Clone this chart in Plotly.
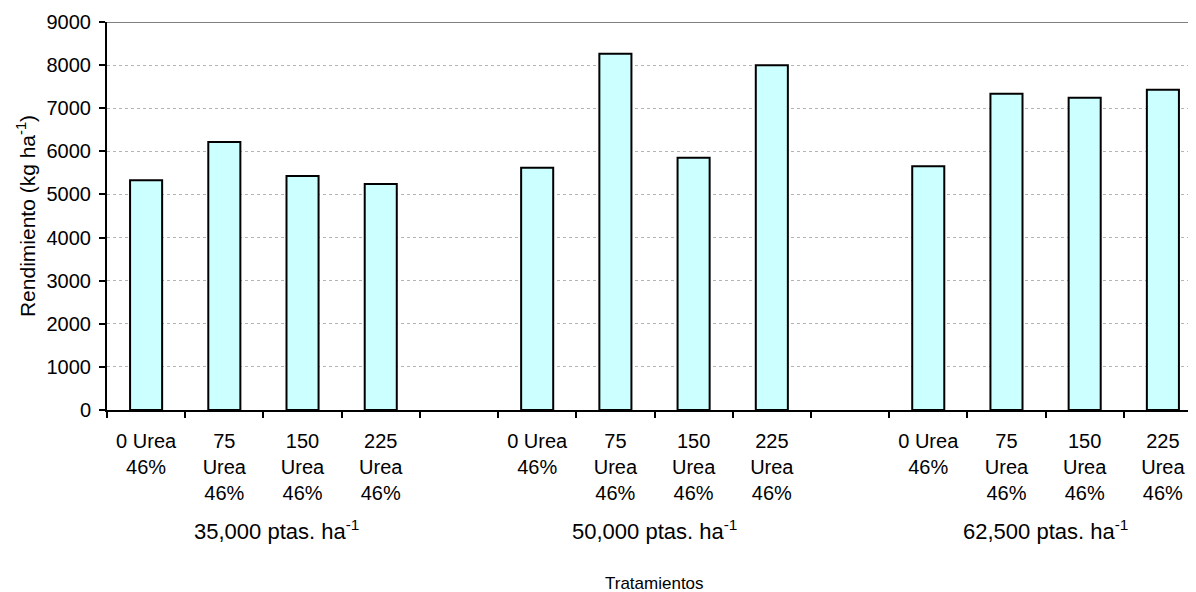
import plotly.graph_objects as go

groups = ["35,000 ptas. ha<sup>-1</sup>", "50,000 ptas. ha<sup>-1</sup>", "62,500 ptas. ha<sup>-1</sup>"]
doses = ["0 Urea<br>46%", "75<br>Urea<br>46%", "150<br>Urea<br>46%", "225<br>Urea<br>46%"]
yield_35000 = [5330, 6215, 5425, 5245]
yield_50000 = [5617, 8264, 5849, 7995]
yield_62500 = [5656, 7335, 7242, 7427]
y_ticks = [0, 1000, 2000, 3000, 4000, 5000, 6000, 7000, 8000, 9000]

series = [yield_35000, yield_50000, yield_62500]

cat_ids, cat_text, xs, ys = [], [], [], []
for gi, vals in enumerate(series):
    for di, d in enumerate(doses):
        cid = f"g{gi}d{di}"
        cat_ids.append(cid)
        cat_text.append(d)
        xs.append(cid)
        ys.append(vals[di])
    if gi < len(series) - 1:
        cat_ids.append(f"gap{gi}")
        cat_text.append("")

fig = go.Figure()
fig.add_trace(go.Bar(
    x=xs, y=ys, width=0.41,
    marker=dict(color="#CCFFFF", line=dict(color="black", width=2)),
    showlegend=False, hoverinfo="x+y",
))

font_family = "Liberation Sans, Arial, sans-serif"

fig.update_layout(
    width=1196, height=592,
    margin=dict(l=99, r=2, t=14, b=190),
    plot_bgcolor="white", paper_bgcolor="white",
    font=dict(family=font_family, size=20, color="black"),
    xaxis=dict(
        type="category", categoryorder="array", categoryarray=cat_ids,
        tickmode="array", tickvals=cat_ids, ticktext=cat_text,
        tickson="boundaries", ticks="outside", ticklen=6, tickwidth=2, tickcolor="black",
        range=[-0.5, 13.5],
        showline=True, linecolor="black", linewidth=2,
        showgrid=False, zeroline=False,
        tickfont=dict(size=20), ticklabelstandoff=12,
    ),
    yaxis=dict(
        range=[0, 9000], tickmode="array", tickvals=y_ticks,
        ticks="outside", ticklen=6, tickwidth=2, tickcolor="black",
        showline=True, linecolor="black", linewidth=2,
        showgrid=True, gridcolor="#b4b4b4", griddash="dot", gridwidth=1,
        zeroline=False,
        tickfont=dict(size=20), ticklabelstandoff=4,
        title=dict(text="Rendimiento (kg ha<sup>-1</sup>)", font=dict(size=21), standoff=5),
    ),
)

# top border of plot area
fig.add_shape(type="line", xref="paper", yref="y", x0=0, x1=1, y0=9000, y1=9000,
              line=dict(color="#808080", width=2))

# group labels
group_shift = [0.17, 0.0, 0.0]
for gi, g in enumerate(groups):
    center = gi * 5 + 1.5 + group_shift[gi]
    fig.add_annotation(x=center, y=-0.31, xref="x", yref="paper", text=g,
                       showarrow=False, font=dict(size=22), yanchor="middle")

fig.add_annotation(x=(-0.5 + 13.5) / 2, y=-0.447, xref="x", yref="paper", text="Tratamientos",
                   showarrow=False, font=dict(size=17), yanchor="middle")

fig.write_html("out.html")
